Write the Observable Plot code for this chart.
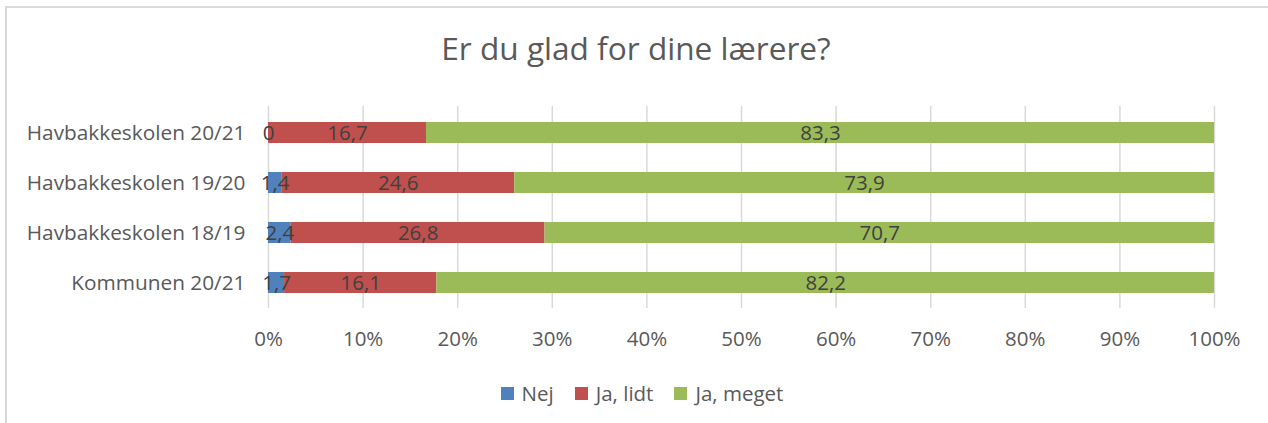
<!DOCTYPE html>
<html><head><meta charset="utf-8">
<script src="https://cdn.jsdelivr.net/npm/d3@7"></script>
<script src="https://cdn.jsdelivr.net/npm/@observablehq/plot@0.6"></script>
<style>
body{margin:0;background:#fff;}
#wrap{position:relative;width:1268px;height:423px;overflow:hidden;font-family:"Open Sans", sans-serif;background:#fff;}
#frame{position:absolute;left:5px;top:6px;width:1300px;height:500px;border-left:2px solid #d9d9d9;border-top:2px solid #d9d9d9;}
#title{position:absolute;left:0;width:1272px;top:32px;text-align:center;font-size:31.6px;color:#595959;line-height:1;}
#chart{position:absolute;left:0;top:90px;}
#legend{position:absolute;top:383px;left:0;width:1284px;display:flex;justify-content:center;align-items:center;font-size:20.5px;color:#595959;line-height:1.0;}
.item{display:flex;align-items:center;margin-right:21px;}
.item:last-child{margin-right:0;}
.sw{width:13px;height:13px;margin-right:8px;}
</style></head>
<body>
<div id="wrap">
<div id="frame"></div>
<div id="title">Er du glad for dine lærere?</div>
<div id="chart"></div>
<div id="legend"></div>
</div>
<script>
const categories = ["Havbakkeskolen 20/21","Havbakkeskolen 19/20","Havbakkeskolen 18/19","Kommunen 20/21"];
const seriesNames = ["Nej","Ja, lidt","Ja, meget"];
const nej = [0, 1.4, 2.4, 1.7];
const jaLidt = [16.7, 24.6, 26.8, 16.1];
const jaMeget = [83.3, 73.9, 70.7, 82.2];
const colors = ["#4F81BD","#C0504D","#9BBB59"];
const xTicks = [0,0.1,0.2,0.3,0.4,0.5,0.6,0.7,0.8,0.9,1];
const xTickLabels = ["0%","10%","20%","30%","40%","50%","60%","70%","80%","90%","100%"];

const seriesValues = [nej, jaLidt, jaMeget];
const rows = [];
categories.forEach((c,i)=>seriesNames.forEach((s,j)=>rows.push({cat:c, series:s, value:seriesValues[j][i]})));
const fmt = v => String(v).replace(".", ",");

const chart = Plot.plot({
  width:1268, height:275,
  marginLeft:268, marginRight:54, marginTop:16, marginBottom:57,
  x:{domain:[0,1], label:null},
  y:{domain:categories, paddingInner:0.59, paddingOuter:0.295, label:null},
  color:{domain:seriesNames, range:colors},
  style:{fontFamily:"'Open Sans', sans-serif", fontSize:"20px", color:"#595959", background:"transparent"},
  marks:[
    Plot.gridX(xTicks,{stroke:"#d9d9d9", strokeOpacity:1, strokeWidth:1.5}),
    Plot.barX(rows, Plot.stackX({x:"value", y:"cat", fill:"series", order:seriesNames, offset:"normalize"})),
    Plot.text(rows, Plot.stackX({x:"value", y:"cat", z:"series", text:d=>fmt(d.value), order:seriesNames, offset:"normalize", fill:"#404040", fontSize:20.5})),
    Plot.axisX(xTicks,{tickSize:0, tickPadding:23, tickFormat:(d,i)=>xTickLabels[i], fontSize:20.5, fill:"#595959", label:null}),
    Plot.axisY({tickSize:0, tickPadding:23, fontSize:20.8, fill:"#595959", label:null})
  ]
});
document.getElementById("chart").appendChild(chart);

const leg = document.getElementById("legend");
seriesNames.forEach((s,i)=>{
  const it = document.createElement("div"); it.className="item";
  const sw = document.createElement("div"); sw.className="sw"; sw.style.background=colors[i];
  const t = document.createElement("span"); t.textContent=s;
  it.appendChild(sw); it.appendChild(t); leg.appendChild(it);
});
</script>
</body></html>
